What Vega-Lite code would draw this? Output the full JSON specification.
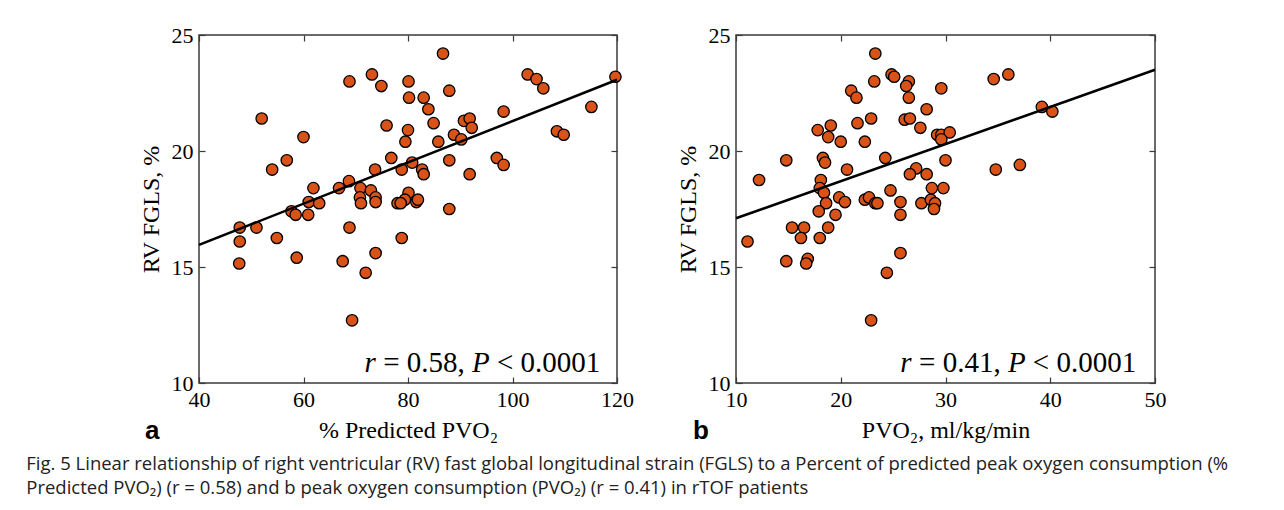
{
  "$schema": "https://vega.github.io/schema/vega-lite/v6.json",
  "background": "white",
  "padding": {"left": 26, "top": 23, "right": 0, "bottom": 0},
  "autosize": {"type": "pad"},
  "config": {
    "font": "Liberation Serif",
    "view": {"stroke": "#3a3a3a", "strokeWidth": 1.5},
    "axis": {
      "domain": false, "grid": false,
      "labelFont": "Liberation Serif", "labelFontSize": 22, "labelColor": "black", "labelFlush": false, "labelOverlap": false,
      "titleFont": "Liberation Serif", "titleFontSize": 24, "titleFontWeight": "normal", "titleColor": "black",
      "tickColor": "#3a3a3a", "tickSize": -6, "tickWidth": 1.2, "labelPadding": 12, "titlePadding": 8
    }
  },
  "datasets": {
    "a": [
      {"x":86.7,"y":24.2},{"x":73.1,"y":23.3},{"x":68.8,"y":23.0},{"x":74.9,"y":22.8},{"x":80.1,"y":23.0},
      {"x":80.2,"y":22.3},{"x":83.0,"y":22.3},{"x":87.9,"y":22.6},{"x":83.9,"y":21.8},{"x":102.9,"y":23.3},
      {"x":104.6,"y":23.1},{"x":105.9,"y":22.7},{"x":119.7,"y":23.2},{"x":115.1,"y":21.9},{"x":98.3,"y":21.7},
      {"x":52.0,"y":21.4},{"x":84.9,"y":21.2},{"x":75.9,"y":21.1},{"x":90.7,"y":21.3},{"x":91.8,"y":21.4},
      {"x":92.2,"y":21.0},{"x":80.0,"y":20.9},{"x":60.0,"y":20.6},{"x":88.8,"y":20.7},{"x":90.2,"y":20.5},
      {"x":108.5,"y":20.85},{"x":109.8,"y":20.7},{"x":79.5,"y":20.4},{"x":85.8,"y":20.4},{"x":97.0,"y":19.7},
      {"x":98.3,"y":19.4},{"x":91.8,"y":19.0},{"x":56.8,"y":19.6},{"x":54.0,"y":19.2},{"x":76.8,"y":19.7},
      {"x":80.8,"y":19.5},{"x":73.7,"y":19.2},{"x":78.8,"y":19.2},{"x":82.7,"y":19.2},{"x":83.0,"y":19.0},
      {"x":87.9,"y":19.6},{"x":61.9,"y":18.4},{"x":66.8,"y":18.4},{"x":68.7,"y":18.7},{"x":70.9,"y":18.4},
      {"x":70.8,"y":18.0},{"x":71.0,"y":17.75},{"x":72.9,"y":18.3},{"x":73.8,"y":18.0},{"x":73.8,"y":17.8},
      {"x":61.0,"y":17.8},{"x":63.0,"y":17.75},{"x":80.1,"y":18.2},{"x":79.4,"y":17.9},{"x":78.0,"y":17.75},
      {"x":78.6,"y":17.75},{"x":81.6,"y":17.8},{"x":81.9,"y":17.9},{"x":87.9,"y":17.5},{"x":57.7,"y":17.4},
      {"x":58.5,"y":17.25},{"x":60.9,"y":17.25},{"x":47.8,"y":16.7},{"x":51.0,"y":16.7},{"x":47.8,"y":16.1},
      {"x":54.9,"y":16.25},{"x":68.8,"y":16.7},{"x":78.8,"y":16.25},{"x":47.7,"y":15.15},{"x":58.7,"y":15.4},
      {"x":67.5,"y":15.25},{"x":73.8,"y":15.6},{"x":71.9,"y":14.75},{"x":69.3,"y":12.7}
    ],
    "b": [
      {"x":23.3,"y":24.2},{"x":24.85,"y":23.3},{"x":25.1,"y":23.2},{"x":23.2,"y":23.0},{"x":26.5,"y":23.0},
      {"x":26.25,"y":22.8},{"x":26.5,"y":22.3},{"x":29.6,"y":22.7},{"x":21.0,"y":22.6},{"x":21.5,"y":22.3},
      {"x":34.6,"y":23.1},{"x":36.0,"y":23.3},{"x":28.2,"y":21.8},{"x":39.2,"y":21.9},{"x":40.2,"y":21.7},
      {"x":22.9,"y":21.4},{"x":21.6,"y":21.2},{"x":26.1,"y":21.35},{"x":26.6,"y":21.4},{"x":17.8,"y":20.9},
      {"x":19.05,"y":21.1},{"x":27.6,"y":21.0},{"x":29.2,"y":20.7},{"x":29.6,"y":20.7},{"x":30.4,"y":20.8},
      {"x":29.6,"y":20.5},{"x":18.8,"y":20.6},{"x":20.0,"y":20.4},{"x":22.3,"y":20.4},{"x":14.8,"y":19.6},
      {"x":18.3,"y":19.7},{"x":18.5,"y":19.5},{"x":24.25,"y":19.7},{"x":30.0,"y":19.6},{"x":34.8,"y":19.2},
      {"x":37.1,"y":19.4},{"x":20.6,"y":19.2},{"x":27.2,"y":19.25},{"x":26.6,"y":19.0},{"x":28.2,"y":19.0},
      {"x":12.2,"y":18.75},{"x":18.1,"y":18.75},{"x":18.0,"y":18.4},{"x":18.4,"y":18.2},{"x":28.7,"y":18.4},
      {"x":29.8,"y":18.4},{"x":24.75,"y":18.3},{"x":19.85,"y":18.0},{"x":20.4,"y":17.8},{"x":22.3,"y":17.9},
      {"x":22.7,"y":18.0},{"x":23.3,"y":17.75},{"x":23.5,"y":17.75},{"x":25.7,"y":17.8},{"x":27.7,"y":17.75},
      {"x":28.6,"y":17.9},{"x":29.0,"y":17.75},{"x":28.9,"y":17.5},{"x":18.6,"y":17.75},{"x":17.9,"y":17.4},
      {"x":19.5,"y":17.25},{"x":25.7,"y":17.25},{"x":15.35,"y":16.7},{"x":16.5,"y":16.7},{"x":18.8,"y":16.7},
      {"x":16.2,"y":16.25},{"x":18.0,"y":16.25},{"x":11.1,"y":16.1},{"x":14.8,"y":15.25},{"x":16.85,"y":15.35},
      {"x":16.7,"y":15.15},{"x":25.7,"y":15.6},{"x":24.4,"y":14.75},{"x":22.9,"y":12.7}
    ],
    "la": [{"x":40,"y":15.95},{"x":120,"y":23.07}],
    "lb": [{"x":10,"y":17.1},{"x":50,"y":23.5}],
    "one": [{}]
  },
  "spacing": 40,
  "title": {
    "text": [
      "Fig. 5  Linear relationship of right ventricular (RV) fast global longitudinal strain (FGLS) to a Percent of predicted peak oxygen consumption (%",
      "Predicted PVO₂) (r = 0.58) and b peak oxygen consumption (PVO₂) (r = 0.41) in rTOF patients"
    ],
    "orient": "bottom", "anchor": "start", "frame": "bounds",
    "font": "Open Sans",
    "fontSize": 18.5, "fontWeight": "normal", "color": "#222222", "lineHeight": 24,
    "dx": -112, "offset": 10
  },
  "hconcat": [
    {
      "width": 418, "height": 348,
      "title": {"text": "a", "orient": "bottom", "anchor": "start", "frame": "bounds", "font": "Liberation Sans", "fontWeight": "bold", "fontSize": 26, "color": "black", "dx": 6, "dy": -28},
      "resolve": {"axis": {"x": "independent", "y": "independent"}},
      "layer": [
        {
          "data": {"name": "a"},
          "mark": {"type": "circle", "fill": "#D95319", "stroke": "black", "strokeWidth": 1.3, "size": 130, "opacity": 1},
          "encoding": {
            "x": {"field": "x", "type": "quantitative", "scale": {"domain": [40, 120], "nice": false}, "axis": {"title": "% Predicted PVO₂", "values": [40, 60, 80, 100, 120]}},
            "y": {"field": "y", "type": "quantitative", "scale": {"domain": [10, 25], "nice": false}, "axis": {"title": "RV FGLS, %", "values": [10, 15, 20, 25]}}
          }
        },
        {
          "data": {"name": "la"},
          "mark": {"type": "line", "color": "black", "strokeWidth": 2.5},
          "encoding": {
            "x": {"field": "x", "type": "quantitative", "axis": {"orient": "top", "labels": false, "title": null, "values": [40, 60, 80, 100, 120]}},
            "y": {"field": "y", "type": "quantitative", "axis": {"orient": "right", "labels": false, "title": null, "values": [10, 15, 20, 25]}}
          }
        },
        {
          "data": {"name": "one"},
          "mark": {"type": "text", "text": "< 0.0001", "font": "Liberation Serif", "fontSize": 29, "align": "right", "baseline": "alphabetic", "color": "black"},
          "encoding": {"x": {"datum": 116.8, "type": "quantitative", "axis": null}, "y": {"datum": 10.48, "type": "quantitative", "axis": null}}
        },
        {
          "data": {"name": "one"},
          "mark": {"type": "text", "text": "P", "font": "Liberation Serif", "fontStyle": "italic", "fontSize": 29, "align": "right", "baseline": "alphabetic", "color": "black", "dx": -110.5},
          "encoding": {"x": {"datum": 116.8, "type": "quantitative", "axis": null}, "y": {"datum": 10.48, "type": "quantitative", "axis": null}}
        },
        {
          "data": {"name": "one"},
          "mark": {"type": "text", "text": "= 0.58,", "font": "Liberation Serif", "fontSize": 29, "align": "right", "baseline": "alphabetic", "color": "black", "dx": -135.5},
          "encoding": {"x": {"datum": 116.8, "type": "quantitative", "axis": null}, "y": {"datum": 10.48, "type": "quantitative", "axis": null}}
        },
        {
          "data": {"name": "one"},
          "mark": {"type": "text", "text": "r", "font": "Liberation Serif", "fontStyle": "italic", "fontSize": 29, "align": "right", "baseline": "alphabetic", "color": "black", "dx": -224.5},
          "encoding": {"x": {"datum": 116.8, "type": "quantitative", "axis": null}, "y": {"datum": 10.48, "type": "quantitative", "axis": null}}
        }
      ]
    },
    {
      "width": 419, "height": 348,
      "title": {"text": "b", "orient": "bottom", "anchor": "start", "frame": "bounds", "font": "Liberation Sans", "fontWeight": "bold", "fontSize": 26, "color": "black", "dx": 17, "dy": -28},
      "resolve": {"axis": {"x": "independent", "y": "independent"}},
      "layer": [
        {
          "data": {"name": "b"},
          "mark": {"type": "circle", "fill": "#D95319", "stroke": "black", "strokeWidth": 1.3, "size": 130, "opacity": 1},
          "encoding": {
            "x": {"field": "x", "type": "quantitative", "scale": {"domain": [10, 50], "nice": false}, "axis": {"title": "PVO₂, ml/kg/min", "values": [10, 20, 30, 40, 50]}},
            "y": {"field": "y", "type": "quantitative", "scale": {"domain": [10, 25], "nice": false}, "axis": {"title": "RV FGLS, %", "values": [10, 15, 20, 25]}}
          }
        },
        {
          "data": {"name": "lb"},
          "mark": {"type": "line", "color": "black", "strokeWidth": 2.5},
          "encoding": {
            "x": {"field": "x", "type": "quantitative", "axis": {"orient": "top", "labels": false, "title": null, "values": [10, 20, 30, 40, 50]}},
            "y": {"field": "y", "type": "quantitative", "axis": {"orient": "right", "labels": false, "title": null, "values": [10, 15, 20, 25]}}
          }
        },
        {
          "data": {"name": "one"},
          "mark": {"type": "text", "text": "< 0.0001", "font": "Liberation Serif", "fontSize": 29, "align": "right", "baseline": "alphabetic", "color": "black"},
          "encoding": {"x": {"datum": 48.2, "type": "quantitative", "axis": null}, "y": {"datum": 10.48, "type": "quantitative", "axis": null}}
        },
        {
          "data": {"name": "one"},
          "mark": {"type": "text", "text": "P", "font": "Liberation Serif", "fontStyle": "italic", "fontSize": 29, "align": "right", "baseline": "alphabetic", "color": "black", "dx": -110.5},
          "encoding": {"x": {"datum": 48.2, "type": "quantitative", "axis": null}, "y": {"datum": 10.48, "type": "quantitative", "axis": null}}
        },
        {
          "data": {"name": "one"},
          "mark": {"type": "text", "text": "= 0.41,", "font": "Liberation Serif", "fontSize": 29, "align": "right", "baseline": "alphabetic", "color": "black", "dx": -135.5},
          "encoding": {"x": {"datum": 48.2, "type": "quantitative", "axis": null}, "y": {"datum": 10.48, "type": "quantitative", "axis": null}}
        },
        {
          "data": {"name": "one"},
          "mark": {"type": "text", "text": "r", "font": "Liberation Serif", "fontStyle": "italic", "fontSize": 29, "align": "right", "baseline": "alphabetic", "color": "black", "dx": -224.5},
          "encoding": {"x": {"datum": 48.2, "type": "quantitative", "axis": null}, "y": {"datum": 10.48, "type": "quantitative", "axis": null}}
        }
      ]
    }
  ]
}
